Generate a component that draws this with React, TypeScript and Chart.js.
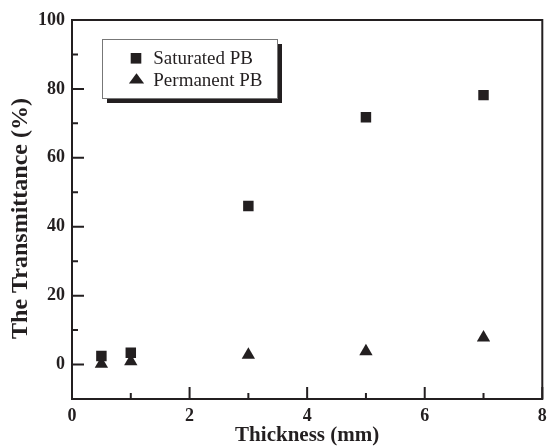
import React, { useEffect, useRef } from 'react';
import { Chart, registerables } from 'chart.js';

Chart.register(...registerables);

const thickness = [0.5, 1, 3, 5, 7];
const saturatedPB = [2.5, 3.4, 46, 71.8, 78.2];
const permanentPB = [0.2, 0.9, 2.8, 3.8, 7.8];
const seriesLabels = ['Saturated PB', 'Permanent PB'];
const xTickValues = [0, 2, 4, 6, 8];
const xMinorTicks = [1, 3, 5, 7];
const yTickValues = [0, 20, 40, 60, 80, 100];
const yMinorTicks = [10, 30, 50, 70, 90];
const xTitle = 'Thickness (mm)';
const yTitle = 'The Transmittance (%)   ';

const INK = '#231f20';
const SERIF = '"Liberation Serif", "Times New Roman", serif';

const framePlugin = {
  id: 'frame',
  afterDraw(chart: any) {
    const { ctx, chartArea: a, scales } = chart;
    const x = scales.x;
    const y = scales.y;
    ctx.save();
    ctx.strokeStyle = INK;
    ctx.lineWidth = 2;
    ctx.strokeRect(a.left, a.top, a.right - a.left, a.bottom - a.top);
    ctx.beginPath();
    xTickValues.forEach((v) => {
      const px = x.getPixelForValue(v);
      ctx.moveTo(px, a.bottom);
      ctx.lineTo(px, a.bottom - 12);
    });
    xMinorTicks.forEach((v) => {
      const px = x.getPixelForValue(v);
      ctx.moveTo(px, a.bottom);
      ctx.lineTo(px, a.bottom - 6);
    });
    yTickValues.forEach((v) => {
      const py = y.getPixelForValue(v);
      ctx.moveTo(a.left, py);
      ctx.lineTo(a.left + 12, py);
    });
    yMinorTicks.forEach((v) => {
      const py = y.getPixelForValue(v);
      ctx.moveTo(a.left, py);
      ctx.lineTo(a.left + 6, py);
    });
    ctx.stroke();

    // legend box
    const bx = a.left + 30;
    const by = a.top + 19;
    const bw = 175;
    const bh = 59;
    ctx.fillStyle = INK;
    ctx.fillRect(bx + 5, by + 5, bw, bh);
    ctx.fillStyle = '#ffffff';
    ctx.fillRect(bx, by, bw, bh);
    ctx.strokeStyle = '#777777';
    ctx.lineWidth = 1;
    ctx.strokeRect(bx + 0.5, by + 0.5, bw, bh);

    ctx.fillStyle = INK;
    ctx.fillRect(bx + 34 - 5.3, by + 19.3 - 5.3, 10.6, 10.6);
    ctx.beginPath();
    ctx.moveTo(bx + 34.5, by + 34.3);
    ctx.lineTo(bx + 34.5 + 7.6, by + 44.5);
    ctx.lineTo(bx + 34.5 - 7.6, by + 44.5);
    ctx.closePath();
    ctx.fill();

    ctx.font = `19px ${SERIF}`;
    ctx.textBaseline = 'middle';
    ctx.textAlign = 'left';
    ctx.fillText(seriesLabels[0], bx + 51.3, by + 19.8);
    ctx.fillText(seriesLabels[1], bx + 51.3, by + 42.5);
    ctx.restore();
  },
};

export default function App() {
  const canvasRef = useRef<HTMLCanvasElement>(null);

  useEffect(() => {
    const canvas = canvasRef.current;
    if (!canvas) return;
    const chart = new Chart(canvas, {
      type: 'scatter',
      data: {
        datasets: [
          {
            label: seriesLabels[0],
            data: thickness.map((t, i) => ({ x: t, y: saturatedPB[i] })),
            pointStyle: 'rect',
            pointRadius: 7.4,
            pointHoverRadius: 7.4,
            backgroundColor: INK,
            borderColor: INK,
            borderWidth: 0,
          },
          {
            label: seriesLabels[1],
            data: thickness.map((t, i) => ({ x: t, y: permanentPB[i] })),
            pointStyle: 'triangle',
            pointRadius: 7.7,
            pointHoverRadius: 7.7,
            backgroundColor: INK,
            borderColor: INK,
            borderWidth: 0,
          },
        ],
      },
      options: {
        responsive: false,
        animation: false,
        layout: { padding: { top: 20, right: 3, left: 0, bottom: 0 } },
        plugins: {
          legend: { display: false },
          tooltip: { enabled: false },
        },
        scales: {
          x: {
            type: 'linear',
            min: 0,
            max: 8,
            afterBuildTicks: (s: any) => {
              s.ticks = xTickValues.map((v) => ({ value: v }));
            },
            afterFit: (s: any) => {
              s.height = 49;
              s.paddingLeft = 0;
              s.paddingRight = 0;
            },
            grid: { display: false, drawTicks: false },
            border: { display: false },
            ticks: {
              color: INK,
              padding: 7,
              maxRotation: 0,
              font: { family: SERIF, size: 18, weight: 'bold' },
            },
            title: {
              display: true,
              text: xTitle,
              color: INK,
              font: { family: SERIF, size: 21, weight: 'bold' },
              padding: { top: 0, bottom: 0 },
            },
          },
          y: {
            type: 'linear',
            min: -10,
            max: 100,
            afterBuildTicks: (s: any) => {
              s.ticks = yTickValues.map((v) => ({ value: v }));
            },
            afterFit: (s: any) => {
              s.width = 72;
              s.paddingTop = 0;
              s.paddingBottom = 0;
            },
            grid: { display: false, drawTicks: false },
            border: { display: false },
            ticks: {
              color: INK,
              padding: 7,
              font: { family: SERIF, size: 18, weight: 'bold' },
            },
            title: {
              display: true,
              text: yTitle,
              color: INK,
              font: { family: SERIF, size: 24, weight: 'bold' },
              padding: { top: 6, bottom: 0 },
            },
          },
        },
      },
      plugins: [framePlugin],
    } as any);
    return () => chart.destroy();
  }, []);

  return (
    <div style={{ position: 'absolute', left: 0, top: 0, width: 550, height: 448, background: '#ffffff' }}>
      <canvas ref={canvasRef} width={550} height={448} style={{ display: 'block' }} />
    </div>
  );
}
